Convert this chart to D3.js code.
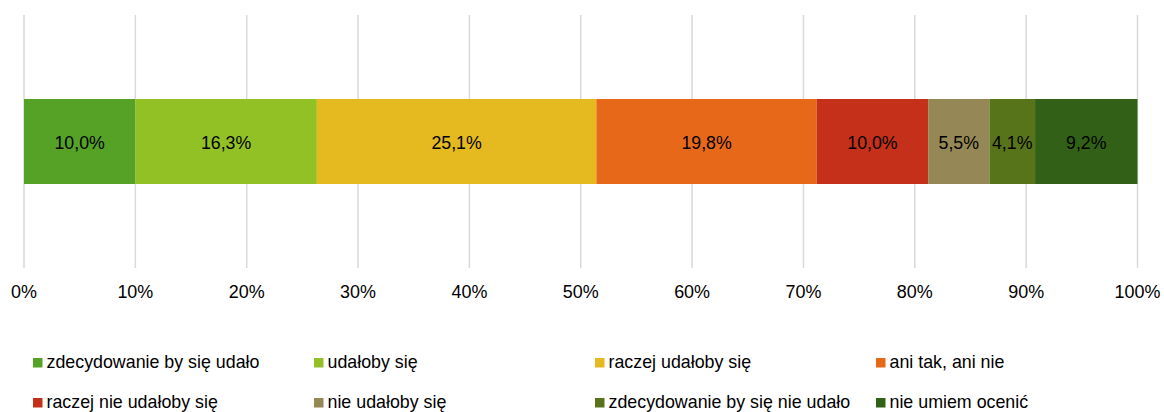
<!DOCTYPE html>
<html><head><meta charset="utf-8">
<script src="https://cdn.jsdelivr.net/npm/d3@7"></script>
<style>body{margin:0;background:#fff}svg{display:block}text{font-family:"Liberation Sans",Arial,sans-serif}</style>
</head><body>
<svg id="c" width="1164" height="412"></svg>
<script>
const categories = ["zdecydowanie by się udało","udałoby się","raczej udałoby się","ani tak, ani nie","raczej nie udałoby się","nie udałoby się","zdecydowanie by się nie udało","nie umiem ocenić"];
const values = [10.0,16.3,25.1,19.8,10.0,5.5,4.1,9.2];
const colors = ["#56A226","#92C125","#E5B920","#E8681A","#C5301A","#958756","#58741A","#326016"];
const tickValues = [0,10,20,30,40,50,60,70,80,90,100];

const svg = d3.select("#c");
const x = d3.scaleLinear().domain([0,100]).range([24,1137.5]);
const gridTop = 15, gridBottom = 268, barTop = 99, barBottom = 184;

svg.append("g").selectAll("line").data(tickValues).join("line")
  .attr("x1", d=>x(d)).attr("x2", d=>x(d)).attr("y1", gridTop).attr("y2", gridBottom)
  .attr("stroke","#d9d9d9").attr("stroke-width",1.5);

let cum = 0;
const segs = values.map((v,i)=>{const s={i,v,start:cum}; cum+=v; return s;});
svg.append("g").selectAll("rect").data(segs).join("rect")
  .attr("x", d=>x(d.start)).attr("width", d=>x(d.start+d.v)-x(d.start))
  .attr("y", barTop).attr("height", barBottom-barTop)
  .attr("fill", d=>colors[d.i]);

svg.append("g").selectAll("text").data(segs).join("text")
  .attr("transform", d=>`translate(${x(d.start+d.v/2)},149) scale(0.96,1)`)
  .attr("text-anchor","middle").attr("font-size",18.5).attr("fill","#000")
  .text(d=>d.v.toFixed(1).replace(".",",")+"%");

svg.append("g").selectAll("text").data(tickValues).join("text")
  .attr("transform", d=>`translate(${x(d)},298) scale(0.97,1)`)
  .attr("text-anchor","middle")
  .attr("font-size",18.5).attr("fill","#000").text(d=>d+"%");

const colX = [33, 314, 595, 876];
const rowY = [368, 408];
const lg = svg.append("g").selectAll("g").data(categories).join("g")
  .attr("transform",(d,i)=>`translate(${colX[i%4]},${rowY[Math.floor(i/4)]})`);
lg.append("rect").attr("x",0).attr("y",-10).attr("width",9.5).attr("height",9.5).attr("fill",(d,i)=>colors[i]);
lg.append("text").attr("transform","translate(13.5,0) scale(0.99,1)").attr("font-size",18).attr("fill","#000").text(d=>d);
</script>
</body></html>
